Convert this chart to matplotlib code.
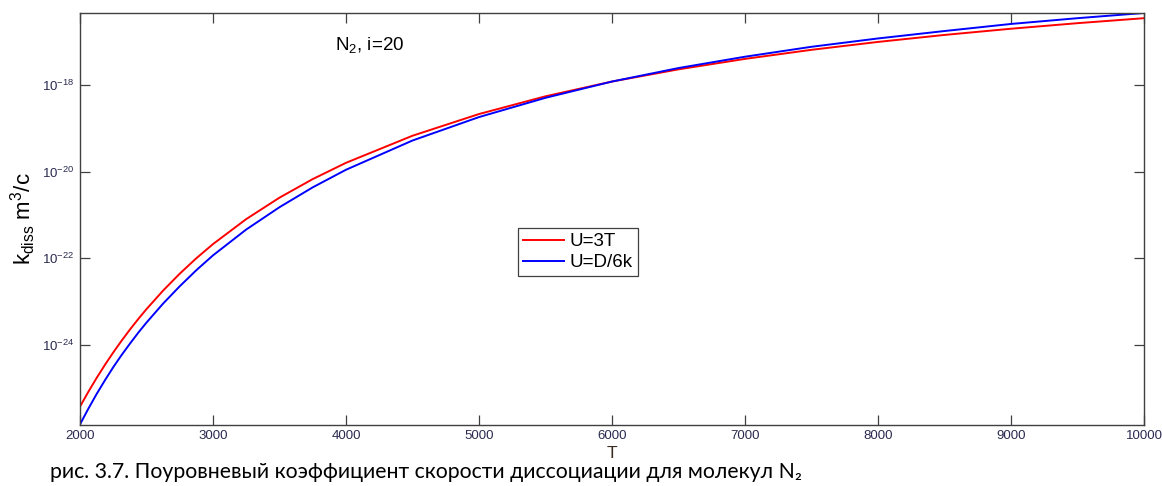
import matplotlib.pyplot as plt
import numpy as np

plt.rcParams['font.family'] = ['Liberation Sans', 'DejaVu Sans']
plt.rcParams['mathtext.fontset'] = 'custom'
plt.rcParams['mathtext.rm'] = 'Liberation Sans'
plt.rcParams['mathtext.it'] = 'Liberation Sans:italic'
plt.rcParams['axes.unicode_minus'] = False

# temperature grid, K
T = [2000, 2060, 2125, 2190, 2250, 2310, 2375, 2440, 2500, 2625, 2750, 2875, 3000,
     3250, 3500, 3750, 4000, 4500, 5000, 5500, 6000, 6500, 7000, 7500, 8000, 8500,
     9000, 9500, 10000]
# log10 of k_diss, m^3/s
log_k_3T = [-25.420, -25.093, -24.759, -24.445, -24.171, -23.912, -23.645, -23.393,
            -23.172, -22.744, -22.355, -21.999, -21.673, -21.097, -20.603, -20.175,
            -19.800, -19.176, -18.676, -18.267, -17.927, -17.646, -17.405, -17.196,
            -17.014, -16.853, -16.710, -16.582, -16.467]
log_k_D6k = [-25.830, -25.483, -25.129, -24.800, -24.511, -24.242, -23.970, -23.708,
             -23.482, -23.044, -22.645, -22.274, -21.933, -21.337, -20.823, -20.365,
             -19.960, -19.286, -18.746, -18.302, -17.927, -17.616, -17.355, -17.126,
             -16.934, -16.763, -16.600, -16.467, -16.347]
labels = ['U=3T', 'U=D/6k']
caption = 'рис. 3.7. Поуровневый коэффициент скорости диссоциации для молекул N\u2082'

k_3T = 10.0 ** np.array(log_k_3T)
k_D6k = 10.0 ** np.array(log_k_D6k)

fig = plt.figure(figsize=(11.62, 4.86), dpi=100)
ax = fig.add_axes([0.0688, 0.1265, 0.9157, 0.8468])

ax.plot(T, k_3T, color='#ff0000', lw=1.4, label=labels[0])
ax.plot(T, k_D6k, color='#0000ff', lw=1.4, label=labels[1])

ax.set_yscale('log')
ax.set_xlim(2000, 10000)
ax.set_ylim(min(k_D6k.min(), k_3T.min()), max(k_D6k.max(), k_3T.max()))
ax.set_xticks(np.arange(2000, 10001, 1000))
ax.set_yticks([1e-24, 1e-22, 1e-20, 1e-18])
ax.minorticks_off()
ax.set_yticklabels(['10$^{-24}$', '10$^{-22}$', '10$^{-20}$', '10$^{-18}$'])

tick_col = '#2a2a50'
ax.tick_params(direction='in', length=7.5, width=0.9, color='#404040',
               top=True, right=True, labelsize=9.5, labelcolor=tick_col, pad=4)
for s in ax.spines.values():
    s.set_color('#404040')
    s.set_linewidth(1.0)

ax.set_xlabel('T', fontsize=12.5, color='#3a2a20', labelpad=3)
ax.set_ylabel('k$_{\\mathrm{diss}}$ m$^3$/c', fontsize=16, labelpad=3)

ax.text(0.24, 0.922, 'N$_2$, i=20', transform=ax.transAxes, fontsize=13.5,
        ha='left', va='center')

leg = ax.legend(loc='center', bbox_to_anchor=(0.468, 0.419), fontsize=13.5,
                fancybox=False, framealpha=1, edgecolor='#404040',
                handlelength=2.2, handletextpad=0.3, borderpad=0.25,
                labelspacing=0.2, borderaxespad=0)
leg.get_frame().set_linewidth(0.9)

fig.text(0.043, 0.028, caption, fontsize=15.3, family=['Lato', 'DejaVu Sans'],
         ha='left', va='center', color='black')

fig.savefig('out.png', dpi=100)
